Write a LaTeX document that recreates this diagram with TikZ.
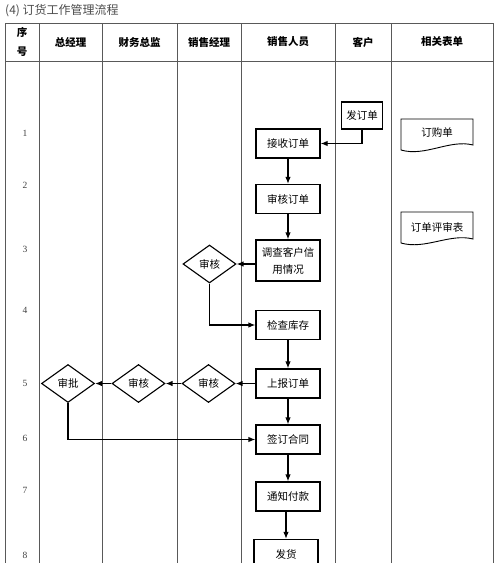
\documentclass[tikz,border=0pt]{standalone}
\usepackage{fontspec}
\setmainfont{Noto Sans CJK SC}
\newfontfamily\numfont{Liberation Serif}
\usetikzlibrary{shapes.geometric,arrows.meta}
\begin{document}
\begin{tikzpicture}[x=1pt,y=-1pt,
    grid/.style={draw=black!65,line width=0.8pt},
    box/.style={draw,line width=1.2pt,minimum width=64pt,minimum height=29pt,
      inner sep=1pt,align=center,font=\fontsize{10.5}{17}\selectfont},
    dia/.style={draw,diamond,line width=1.1pt,minimum width=53pt,minimum height=38pt,
      inner sep=0pt,font=\fontsize{10.5}{13}\selectfont},
    doc/.style={draw,line width=0.9pt},
    flow/.style={line width=1.2pt,-{Latex[length=7pt,width=5.5pt]}},
    head/.style={font=\bfseries\fontsize{10.5}{19}\selectfont,align=center},
    num/.style={text=black!75,font=\numfont\fontsize{9.5}{10}\selectfont}]
    \useasboundingbox (0,0) rectangle (500,563);
    \clip (0,0) rectangle (500,563);

    % title and table
    \node[anchor=west,text=black!70,font=\fontsize{12}{13}\selectfont,inner sep=0pt] (title) at (5,11) {(4) 订货工作管理流程};
    \draw[grid] (5,23) -- (493,23);
    \draw[grid] (5,61) -- (493,61);
    \foreach \x in {5,39,102,177,241,335,391,493}
      \draw[grid] (\x,23) -- (\x,570);

    \node[head] (hxh) at (22,42) {序\\号};
    \node[head] (hzj) at (70.5,42) {总经理};
    \node[head] (hcw) at (139.5,42) {财务总监};
    \node[head] (hxj) at (209,42) {销售经理};
    \node[head] (hxr) at (288,42) {销售人员};
    \node[head] (hkh) at (363,42) {客户};
    \node[head] (hbd) at (442,42) {相关表单};

    \foreach \n/\y in {1/133,2/185,3/249,4/310,5/383,6/438,7/490,8/555}
      \node[num] (n\n) at (25,\y) {\n};

    % flow
    \node[box,minimum width=41pt,minimum height=27pt] (fdd) at (362,115.5) {发订单};
    \node[box] (jsdd) at (288,143.5) {接收订单};
    \node[box] (shdd) at (288,199) {审核订单};
    \node[box,minimum height=41pt] (dcxy) at (288,260.5) {调查客户信\\用情况};
    \node[dia] (xjsh1) at (209.5,264) {审核};
    \node[box] (jckc) at (288,325) {检查库存};
    \node[box] (sbdd) at (288,383.5) {上报订单};
    \node[dia] (xjsh2) at (208.5,383.5) {审核};
    \node[dia] (cwsh) at (138.5,383.5) {审核};
    \node[dia] (zjsp) at (68,383.5) {审批};
    \node[box] (qdht) at (288,439.5) {签订合同};
    \node[box] (tzfk) at (288,496.5) {通知付款};
    \node[box] (fh) at (286,554) {发货};

    \draw[flow] (fdd.south) |- (jsdd.east);
    \draw[flow] (jsdd) -- (shdd);
    \draw[flow] (shdd) -- (dcxy);
    \draw[flow] (dcxy.west |- xjsh1) -- (xjsh1.east);
    \draw[flow] (xjsh1.south) |- (jckc.west);
    \draw[flow] (jckc) -- (sbdd);
    \draw[flow] (sbdd) -- (xjsh2);
    \draw[flow] (xjsh2) -- (cwsh);
    \draw[flow] (cwsh) -- (zjsp);
    \draw[flow] (zjsp.south) |- (qdht.west);
    \draw[flow] (sbdd) -- (qdht);
    \draw[flow] (qdht) -- (tzfk);
    \draw[flow] (tzfk.south -| fh) -- (fh.north);

    % forms
    \draw[doc] (401,119) -- (473,119) -- (473,145)
      .. controls (450,139) and (425,157) .. (401,150) -- cycle;
    \node[font=\fontsize{10.5}{13}\selectfont] (dgd) at (437,133) {订购单};
    \draw[doc] (401,212) -- (473,212) -- (473,239)
      .. controls (450,233) and (425,250) .. (401,243) -- cycle;
    \node[font=\fontsize{10.5}{13}\selectfont] (psb) at (437,227.5) {订单评审表};
\end{tikzpicture}
\end{document}
